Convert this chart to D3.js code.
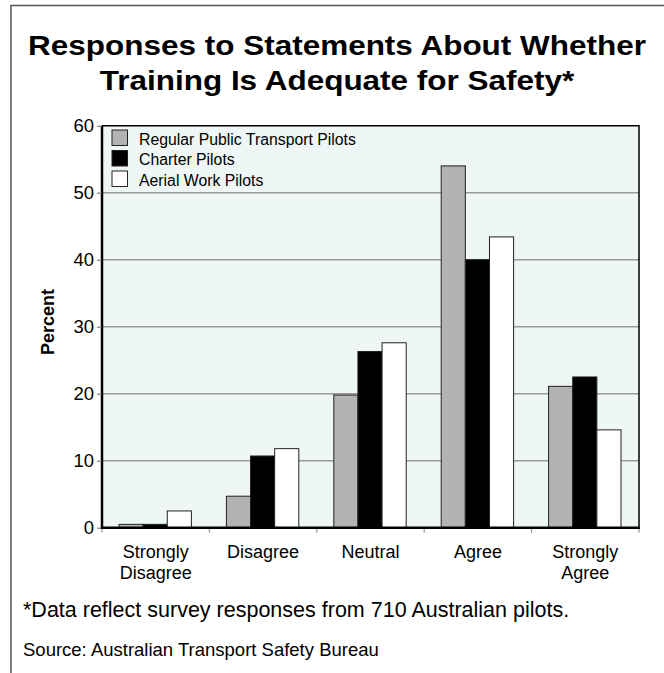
<!DOCTYPE html>
<html><head><meta charset="utf-8">
<script src="https://cdn.jsdelivr.net/npm/d3@7"></script>
<style>body{margin:0;background:#fff;} svg{display:block;font-family:"Liberation Sans",Arial,sans-serif;}</style>
</head><body><svg id="c" width="664" height="673"></svg>
<script>
const categories = ["Strongly Disagree","Disagree","Neutral","Agree","Strongly Agree"];
const categoryLines = [["Strongly","Disagree"],["Disagree"],["Neutral"],["Agree"],["Strongly","Agree"]];
const seriesNames = ["Regular Public Transport Pilots","Charter Pilots","Aerial Work Pilots"];
const rptValues = [0.5, 4.7, 19.8, 54.0, 21.1];
const charterValues = [0.5, 10.7, 26.3, 40.0, 22.5];
const aerialValues = [2.5, 11.8, 27.6, 43.4, 14.6];
const yTicks = [0,10,20,30,40,50,60];
const colors = ["#b3b3b3","#000000","#ffffff"];

const seriesValues = [rptValues, charterValues, aerialValues];
const svg = d3.select("#c");
const FF = "Liberation Sans, Arial, sans-serif";

// outer frame (top and left)
svg.append("path").attr("d","M11,673 L11,5.5 L664,5.5").attr("fill","none").attr("stroke","#555").attr("stroke-width",1.5);

// title
const title = svg.append("text").attr("text-anchor","middle").attr("font-weight","bold").attr("font-size",28.5).attr("fill","#000")
  .attr("transform","translate(337,0) scale(1.105,1)");
title.append("tspan").attr("x",0).attr("y",55).text("Responses to Statements About Whether");
title.append("tspan").attr("x",0).attr("y",90).text("Training Is Adequate for Safety*");

const L=102, R=639, T=125.7, B=527.7;
const y = d3.scaleLinear().domain([0,60]).range([B,T]);
const x = d3.scaleBand().domain(categories).range([L,R]);
const x1 = d3.scaleBand().domain(seriesNames).range([17, 17+72.4]);

svg.append("rect").attr("x",L).attr("y",T).attr("width",R-L).attr("height",B-T).attr("fill","#eef7f5");

// gridlines
svg.append("g").selectAll("line").data(yTicks.filter(t=>t>0 && t<60)).join("line")
  .attr("x1",L).attr("x2",R).attr("y1",d=>y(d)).attr("y2",d=>y(d)).attr("stroke","#999").attr("stroke-width",1.5);

// bars
const g = svg.append("g");
categories.forEach((c,i)=>{
  seriesNames.forEach((s,j)=>{
    const v = seriesValues[j][i];
    g.append("rect").attr("x",x(c)+x1(s)).attr("y",y(v)).attr("width",x1.bandwidth()).attr("height",y(0)-y(v))
      .attr("fill",colors[j]).attr("stroke","#222").attr("stroke-width",1);
  });
});

// frame top/right
svg.append("path").attr("d",`M${L},${T} L${R},${T} L${R},${B}`).attr("fill","none").attr("stroke","#000").attr("stroke-width",1.5);

// y axis
const yAxis = svg.append("g").attr("transform",`translate(${L},0)`)
  .call(d3.axisLeft(y).tickValues(yTicks).tickSize(5).tickPadding(3));
yAxis.select(".domain").attr("stroke","#000").attr("stroke-width",2.5).attr("d",`M0,${T}V${B+1}`);
yAxis.selectAll(".tick line").attr("stroke","#666");
yAxis.selectAll("text").attr("font-size",18.5).attr("font-family",FF).attr("fill","#000");

// x axis
const bounds = categories.map(c=>x(c)).concat([R]);
svg.append("g").selectAll("line").data(bounds).join("line")
  .attr("x1",d=>d).attr("x2",d=>d).attr("y1",B).attr("y2",B+5).attr("stroke","#888").attr("stroke-width",1);
svg.append("line").attr("x1",L-1).attr("x2",R+1).attr("y1",B).attr("y2",B).attr("stroke","#000").attr("stroke-width",2.5);

const xl = svg.append("g");
categories.forEach((c,i)=>{
  const t = xl.append("text").attr("text-anchor","middle").attr("font-size",18).attr("fill","#000");
  categoryLines[i].forEach((ln,k)=>{
    t.append("tspan").attr("x",x(c)+x.bandwidth()/2).attr("y",558+k*21).text(ln);
  });
});

// y label
svg.append("text").attr("transform","translate(53.5,322) rotate(-90)").attr("text-anchor","middle")
  .attr("font-weight","bold").attr("font-size",18).text("Percent");

// legend
const lg = svg.append("g");
seriesNames.forEach((s,j)=>{
  lg.append("rect").attr("x",112).attr("y",130+j*20.5).attr("width",15.5).attr("height",15.5)
    .attr("fill",colors[j]).attr("stroke","#222").attr("stroke-width",1);
  lg.append("text").attr("x",139).attr("y",144.5+j*20.5).attr("font-size",15.8).attr("fill","#000").text(s);
});

// notes
svg.append("text").attr("x",23).attr("y",616.5).attr("font-size",21.5).attr("fill","#000").text("*Data reflect survey responses from 710 Australian pilots.");
svg.append("text").attr("x",23).attr("y",656).attr("font-size",18.5).attr("fill","#000").text("Source: Australian Transport Safety Bureau");
</script></body></html>
